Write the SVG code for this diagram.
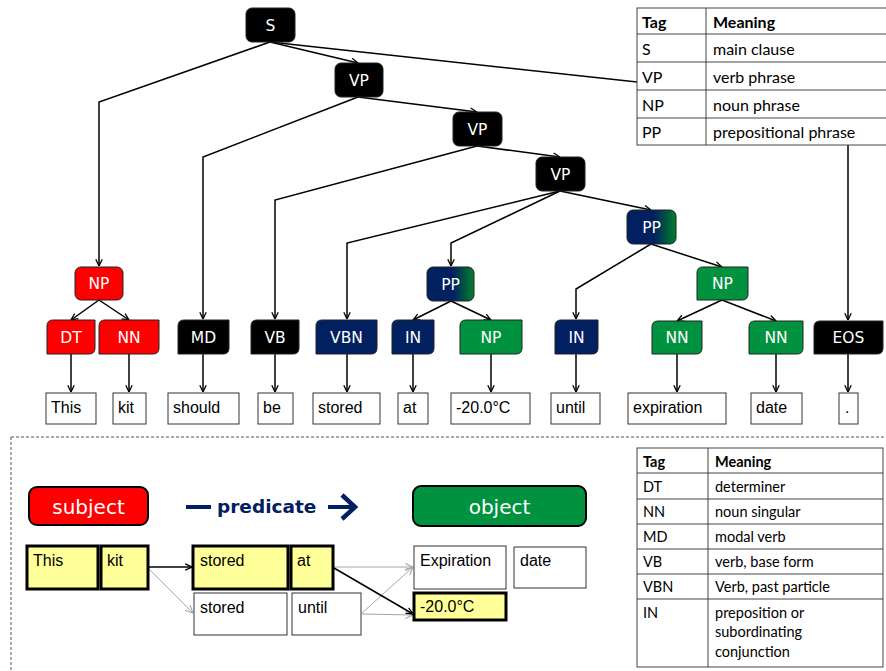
<svg xmlns="http://www.w3.org/2000/svg" width="886" height="671" viewBox="0 0 886 671">
<style>
.tag{font-family:"DejaVu Sans",Verdana,sans-serif;font-size:15.5px;fill:#fff;text-anchor:middle}
.word{font-family:"Liberation Sans",Arial,sans-serif;font-size:16px;fill:#000}
.wbox{fill:#fff;stroke:#333;stroke-width:1}
.ybox{fill:#ffff99;stroke:#000;stroke-width:3}
.nd{stroke:#222;stroke-width:1}
.blk{fill:#000}.red{fill:#ff0000}.grn{fill:#00923f}.nav{fill:#002060}
.conn{fill:none;stroke:#000;stroke-width:1.5}
.gray{fill:none;stroke:#a6a6a6;stroke-width:1}
.tbl{font-family:Lato,"Liberation Sans",sans-serif;fill:#000}
.tline{stroke:#444;stroke-width:1;fill:none}
</style>
<defs>
<marker id="ah" viewBox="0 0 10 10" refX="9.5" refY="5" markerWidth="8" markerHeight="8" markerUnits="userSpaceOnUse" orient="auto">
<path d="M1,1 L9.5,5 L1,9" fill="none" stroke="#000" stroke-width="1.6"/>
</marker>
<marker id="ahg" viewBox="0 0 10 10" refX="9.5" refY="5" markerWidth="9" markerHeight="9" markerUnits="userSpaceOnUse" orient="auto">
<path d="M1,1 L9.5,5 L1,9" fill="none" stroke="#a6a6a6" stroke-width="1.2"/>
</marker>
<linearGradient id="pp" x1="0" y1="0" x2="1" y2="0">
<stop offset="0" stop-color="#002060"/>
<stop offset="0.55" stop-color="#002060"/>
<stop offset="1" stop-color="#00802a"/>
</linearGradient>
</defs>
<rect width="886" height="671" fill="#fff"/>

<!-- connectors -->
<g id="connectors">
<polyline class="conn" points="270,42 99,102 99,266" marker-end="url(#ah)"/>
<polyline class="conn" points="270,42 358,63" marker-end="url(#ah)"/>
<polyline class="conn" points="270,42 848,105 848,320" marker-end="url(#ah)"/>
<polyline class="conn" points="358,97 203,157 203,319" marker-end="url(#ah)"/>
<polyline class="conn" points="358,97 477,112" marker-end="url(#ah)"/>
<polyline class="conn" points="477,146 275,200 275,319" marker-end="url(#ah)"/>
<polyline class="conn" points="477,146 560,157" marker-end="url(#ah)"/>
<polyline class="conn" points="560,191 347,243 347,319" marker-end="url(#ah)"/>
<polyline class="conn" points="560,191 451,243 451,266" marker-end="url(#ah)"/>
<polyline class="conn" points="560,191 651,210" marker-end="url(#ah)"/>
<polyline class="conn" points="651,244 576,289 576,319" marker-end="url(#ah)"/>
<polyline class="conn" points="651,244 722,267" marker-end="url(#ah)"/>
<polyline class="conn" points="99,300 71,320" marker-end="url(#ah)"/>
<polyline class="conn" points="99,300 129,320" marker-end="url(#ah)"/>
<polyline class="conn" points="451,301 413,320" marker-end="url(#ah)"/>
<polyline class="conn" points="451,301 491,320" marker-end="url(#ah)"/>
<polyline class="conn" points="722,300 677,321" marker-end="url(#ah)"/>
<polyline class="conn" points="722,300 776,321" marker-end="url(#ah)"/>
<line class="conn" x1="71" y1="354" x2="71" y2="392" marker-end="url(#ah)"/>
<line class="conn" x1="129" y1="354" x2="129" y2="392" marker-end="url(#ah)"/>
<line class="conn" x1="203" y1="354" x2="203" y2="392" marker-end="url(#ah)"/>
<line class="conn" x1="275" y1="354" x2="275" y2="392" marker-end="url(#ah)"/>
<line class="conn" x1="347" y1="354" x2="347" y2="392" marker-end="url(#ah)"/>
<line class="conn" x1="413" y1="354" x2="413" y2="392" marker-end="url(#ah)"/>
<line class="conn" x1="491" y1="354" x2="491" y2="392" marker-end="url(#ah)"/>
<line class="conn" x1="576" y1="354" x2="576" y2="392" marker-end="url(#ah)"/>
<line class="conn" x1="677" y1="354" x2="677" y2="392" marker-end="url(#ah)"/>
<line class="conn" x1="776" y1="354" x2="776" y2="392" marker-end="url(#ah)"/>
<line class="conn" x1="848" y1="354" x2="848" y2="392" marker-end="url(#ah)"/>
<!-- bottom section -->
<line class="gray" x1="148" y1="568" x2="193" y2="613" marker-end="url(#ahg)"/>
<line class="gray" x1="334" y1="567" x2="413" y2="567" marker-end="url(#ahg)"/>
<line class="gray" x1="362" y1="613" x2="413" y2="567" marker-end="url(#ahg)"/>
<line class="gray" x1="362" y1="614" x2="413" y2="615" marker-end="url(#ahg)"/>
<line class="conn" x1="148" y1="567" x2="192" y2="567" marker-end="url(#ah)"/>
<line class="conn" x1="334" y1="568" x2="413" y2="614" marker-end="url(#ah)"/>
</g>

<!-- top table -->
<g id="table-top">
<rect x="637" y="8" width="260" height="137" fill="#fff" stroke="#444"/>
<path class="tline" d="M637,34 H890 M637,62 H890 M637,90 H890 M637,118 H890 M706,8 V145"/>
<g class="tbl" font-size="16">
<text x="642" y="28" font-weight="bold">Tag</text><text x="713" y="28" font-weight="bold">Meaning</text>
<text x="642" y="55">S</text><text x="713" y="55">main clause</text>
<text x="642" y="83">VP</text><text x="713" y="83">verb phrase</text>
<text x="642" y="111">NP</text><text x="713" y="111">noun phrase</text>
<text x="642" y="138">PP</text><text x="713" y="138">prepositional phrase</text>
</g>
</g>

<!-- tag nodes -->
<g id="n-S"><rect class="nd blk" x="246" y="8" width="49" height="34" rx="6"/><text class="tag" x="270.5" y="30.5">S</text></g>
<g id="n-VP1"><rect class="nd blk" x="335" y="63" width="48" height="34" rx="6"/><text class="tag" x="359" y="85.5">VP</text></g>
<g id="n-VP2"><rect class="nd blk" x="453" y="112" width="49" height="34" rx="6"/><text class="tag" x="477.5" y="134.5">VP</text></g>
<g id="n-VP3"><rect class="nd blk" x="536" y="157" width="49" height="34" rx="6"/><text class="tag" x="560.5" y="179.5">VP</text></g>
<g id="n-NP1"><rect class="nd red" x="75" y="267" width="48" height="33" rx="6"/><text class="tag" x="99" y="289">NP</text></g>
<g id="n-PP1"><rect class="nd" fill="url(#pp)" x="427" y="267" width="47" height="34" rx="6"/><text class="tag" x="450.5" y="289.5">PP</text></g>
<g id="n-PP2"><rect class="nd" fill="url(#pp)" x="627" y="210" width="49" height="34" rx="6"/><text class="tag" x="651.5" y="232.5">PP</text></g>
<g id="n-NP2"><path class="nd grn" d="M703,267 H748 V294 Q748,300 742,300 H697 V273 Q697,267 703,267 Z"/><text class="tag" x="722.5" y="289">NP</text></g>
<g id="n-DT"><path class="nd red" d="M53,320 H95 V348 Q95,354 89,354 H47 V326 Q47,320 53,320 Z"/><text class="tag" x="71" y="342.5">DT</text></g>
<g id="n-NN1"><path class="nd red" d="M105,320 H159 V348 Q159,354 153,354 H99 V326 Q99,320 105,320 Z"/><text class="tag" x="129" y="342.5">NN</text></g>
<g id="n-MD"><path class="nd blk" d="M184,320 H229 V348 Q229,354 223,354 H178 V326 Q178,320 184,320 Z"/><text class="tag" x="203.5" y="342.5">MD</text></g>
<g id="n-VB"><path class="nd blk" d="M257,320 H299 V348 Q299,354 293,354 H251 V326 Q251,320 257,320 Z"/><text class="tag" x="275" y="342.5">VB</text></g>
<g id="n-VBN"><path class="nd nav" d="M322,320 H377 V348 Q377,354 371,354 H316 V326 Q316,320 322,320 Z"/><text class="tag" x="346.5" y="342.5">VBN</text></g>
<g id="n-IN1"><path class="nd nav" d="M398,320 H434 V348 Q434,354 428,354 H392 V326 Q392,320 398,320 Z"/><text class="tag" x="413" y="342.5">IN</text></g>
<g id="n-NP3"><path class="nd grn" d="M466,320 H522 V348 Q522,354 516,354 H460 V326 Q460,320 466,320 Z"/><text class="tag" x="491" y="342.5">NP</text></g>
<g id="n-IN2"><path class="nd nav" d="M561,320 H598 V348 Q598,354 592,354 H555 V326 Q555,320 561,320 Z"/><text class="tag" x="576.5" y="342.5">IN</text></g>
<g id="n-NN2"><path class="nd grn" d="M658,321 H702 V348 Q702,354 696,354 H652 V327 Q652,321 658,321 Z"/><text class="tag" x="677" y="343">NN</text></g>
<g id="n-NN3"><path class="nd grn" d="M755,321 H803 V348 Q803,354 797,354 H749 V327 Q749,321 755,321 Z"/><text class="tag" x="776" y="343">NN</text></g>
<g id="n-EOS"><path class="nd blk" d="M820,321 H883 V348 Q883,354 877,354 H814 V327 Q814,321 820,321 Z"/><text class="tag" x="848.5" y="343">EOS</text></g>

<!-- word nodes -->
<g id="w-This"><rect class="wbox" x="46" y="393" width="50" height="31"/><text class="word" x="51" y="413">This</text></g>
<g id="w-kit"><rect class="wbox" x="113" y="393" width="33" height="31"/><text class="word" x="118" y="413">kit</text></g>
<g id="w-should"><rect class="wbox" x="168" y="393" width="71" height="31"/><text class="word" x="173" y="413">should</text></g>
<g id="w-be"><rect class="wbox" x="258" y="393" width="35" height="31"/><text class="word" x="263" y="413">be</text></g>
<g id="w-stored"><rect class="wbox" x="313" y="393" width="67" height="31"/><text class="word" x="318" y="413">stored</text></g>
<g id="w-at"><rect class="wbox" x="398" y="393" width="30" height="31"/><text class="word" x="403" y="413">at</text></g>
<g id="w-temp"><rect class="wbox" x="451" y="393" width="79" height="31"/><text class="word" x="456" y="413">-20.0°C</text></g>
<g id="w-until"><rect class="wbox" x="551" y="393" width="49" height="31"/><text class="word" x="556" y="413">until</text></g>
<g id="w-expiration"><rect class="wbox" x="628" y="393" width="98" height="31"/><text class="word" x="633" y="413">expiration</text></g>
<g id="w-date"><rect class="wbox" x="751" y="393" width="51" height="31"/><text class="word" x="756" y="413">date</text></g>
<g id="w-dot"><rect class="wbox" x="839" y="393" width="19" height="31"/><text class="word" x="845" y="413">.</text></g>

<!-- separator -->
<path d="M11,437 H886 M11,437 V671" fill="none" stroke="#555" stroke-width="1" stroke-dasharray="3,2"/>

<!-- bottom section -->
<g id="b-subject"><rect x="29" y="487" width="119" height="38" rx="8" fill="#ff0000" stroke="#000" stroke-width="2"/><text x="88.5" y="514" font-family="DejaVu Sans,Verdana,sans-serif" font-size="20" fill="#fff" text-anchor="middle">subject</text></g>
<g id="b-predicate">
<line x1="186" y1="507" x2="211" y2="507" stroke="#002060" stroke-width="4"/>
<text x="217" y="513" font-family="DejaVu Sans,Verdana,sans-serif" font-size="18.5" font-weight="bold" fill="#002060">predicate</text>
<line x1="328" y1="507" x2="354" y2="507" stroke="#002060" stroke-width="4"/>
<path d="M342,495 L355,507 L342,519" fill="none" stroke="#002060" stroke-width="4.5"/>
</g>
<g id="b-object"><rect x="413" y="486" width="173" height="40" rx="8" fill="#00923f" stroke="#000" stroke-width="2"/><text x="499.5" y="514" font-family="DejaVu Sans,Verdana,sans-serif" font-size="20" fill="#fff" text-anchor="middle">object</text></g>

<g id="b-This"><rect class="ybox" x="27" y="546" width="71" height="43"/><text class="word" x="33" y="566">This</text></g>
<g id="b-kit"><rect class="ybox" x="101" y="546" width="47" height="43"/><text class="word" x="107" y="566">kit</text></g>
<g id="b-stored1"><rect class="ybox" x="193" y="546" width="95" height="43"/><text class="word" x="200" y="566">stored</text></g>
<g id="b-at"><rect class="ybox" x="291" y="546" width="42" height="43"/><text class="word" x="297" y="566">at</text></g>
<g id="b-stored2"><rect class="wbox" x="194" y="593" width="93" height="42"/><text class="word" x="200" y="613">stored</text></g>
<g id="b-until"><rect class="wbox" x="292" y="593" width="69" height="42"/><text class="word" x="298" y="613">until</text></g>
<g id="b-expiration"><rect class="wbox" x="414" y="546" width="92" height="43"/><text class="word" x="420" y="566">Expiration</text></g>
<g id="b-date"><rect class="wbox" x="514" y="547" width="72" height="41"/><text class="word" x="520" y="566">date</text></g>
<g id="b-temp"><rect class="ybox" x="414" y="593" width="92" height="27"/><text class="word" x="420" y="612">-20.0°C</text></g>

<!-- bottom table -->
<g id="table-bottom">
<rect x="637" y="448" width="246" height="219" fill="#fff" stroke="#444"/>
<path class="tline" d="M637,473 H883 M637,499 H883 M637,524 H883 M637,549 H883 M637,574 H883 M637,599 H883 M708,448 V667"/>
<g class="tbl" font-size="14.5">
<text x="643" y="467" font-weight="bold">Tag</text><text x="715" y="467" font-weight="bold">Meaning</text>
<text x="643" y="492">DT</text><text x="715" y="492">determiner</text>
<text x="643" y="517">NN</text><text x="715" y="517">noun singular</text>
<text x="643" y="542">MD</text><text x="715" y="542">modal verb</text>
<text x="643" y="567">VB</text><text x="715" y="567">verb, base form</text>
<text x="643" y="592">VBN</text><text x="715" y="592">Verb, past particle</text>
<text x="643" y="618">IN</text><text x="715" y="618">preposition or</text>
<text x="715" y="637">subordinating</text>
<text x="715" y="657">conjunction</text>
</g>
</g>
</svg>
